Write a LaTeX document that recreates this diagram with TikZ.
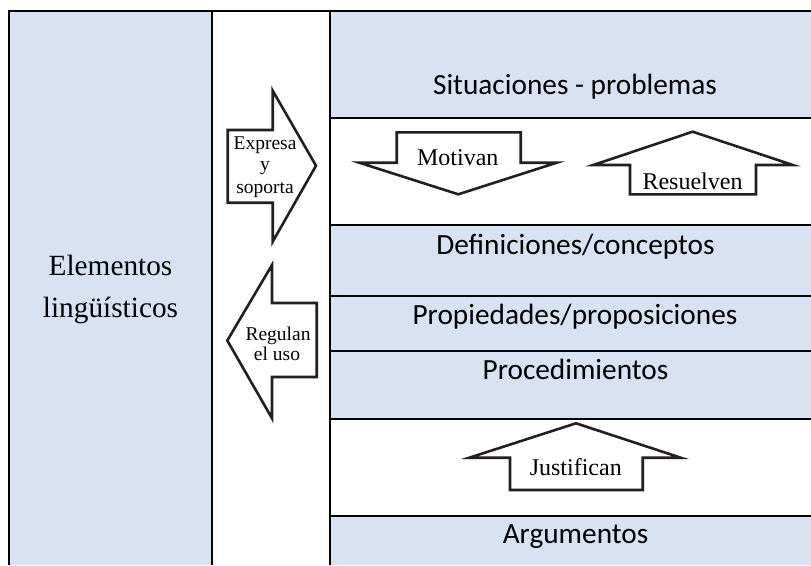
\documentclass[tikz,border=0pt]{standalone}
\usepackage{fontspec}
\setmainfont{Liberation Serif}
\newfontfamily\calib{Carlito}
\definecolor{cellblue}{HTML}{D9E2F3}
\definecolor{ink}{HTML}{231F20}
\begin{document}
\begin{tikzpicture}[x=1pt,y=-1pt,
  gridline/.style={line width=2.2pt,black},
  arr/.style={line width=2.6pt,draw=ink,fill=white,line join=miter},
  sanslbl/.style={font=\calib\fontsize{29.3}{35}\selectfont,inner sep=0pt,anchor=base},
  seriflbl/.style={font=\fontsize{29.3}{35}\selectfont,inner sep=0pt,anchor=base},
  sidelbl/.style={font=\fontsize{19.5}{21}\selectfont,inner sep=0pt,anchor=base},
  arrlbl/.style={font=\fontsize{24}{26}\selectfont,inner sep=0pt,anchor=base}]
\useasboundingbox (0,0) rectangle (811,565);
\fill[white] (0,0) rectangle (811,565);
% cell fills
\fill[cellblue] (9,11) rectangle (212,565);
\fill[cellblue] (330,11) rectangle (811,118);
\fill[cellblue] (330,225) rectangle (811,419);
\fill[cellblue] (330,516) rectangle (811,565);
% grid
\draw[gridline] (9,565) -- (9,11) -- (811,11);
\draw[gridline] (212,11) -- (212,565);
\draw[gridline] (330,11) -- (330,565);
\foreach \yy in {118,225,296,351,419,516}
  \draw[gridline] (330,\yy) -- (811,\yy);
% arrows
\draw[arr] (227.7,130) -- (272.7,130) -- (272.7,90.7) -- (316,165.7) -- (272.7,241.7) -- (272.7,202.7) -- (227.7,202.7) -- cycle;
\draw[arr] (316.7,303) -- (272,303) -- (272,265) -- (227.3,340.5) -- (272,418.3) -- (272,377) -- (316.7,377) -- cycle;
\draw[arr] (396.7,132.3) -- (520.7,132.3) -- (520.7,162.7) -- (556.7,162.7) -- (458.3,194.3) -- (359.3,162.7) -- (396.7,162.7) -- cycle;
\draw[arr] (630,194.3) -- (756,194.3) -- (756,165) -- (792.7,165) -- (692.7,131.7) -- (593.3,165) -- (630,165) -- cycle;
\draw[arr] (510,490) -- (642.7,490) -- (642.7,457.7) -- (680.7,457.7) -- (576,423.3) -- (469.3,457.7) -- (510,457.7) -- cycle;
% texts
\node[seriflbl] (el1) at (110.5,275) {Elementos};
\node[seriflbl] (el2) at (110.5,317) {lingüísticos};
\node[sanslbl] (sit) at (575,94) {Situaciones - problemas};
\node[sanslbl] (def) at (575.5,254.3) {Definiciones/conceptos};
\node[sanslbl] (pro) at (575,324.3) {Propiedades/proposiciones};
\node[sanslbl] (proc) at (575.5,379) {Procedimientos};
\node[sanslbl] (arg) at (575.5,543.3) {Argumentos};
\node[arrlbl] (mot) at (457.8,165) {Motivan};
\node[arrlbl] (res) at (692.5,189) {Resuelven};
\node[arrlbl] (jus) at (575.8,475.7) {Justifican};
\node[sidelbl] (ex1) at (265,149.3) {Expresa};
\node[sidelbl] (ex2) at (265,170) {y};
\node[sidelbl] (ex3) at (265,193.3) {soporta};
\node[sidelbl] (re1) at (278,340) {Regulan};
\node[sidelbl] (re2) at (277,360.7) {el uso};
\end{tikzpicture}
\end{document}
